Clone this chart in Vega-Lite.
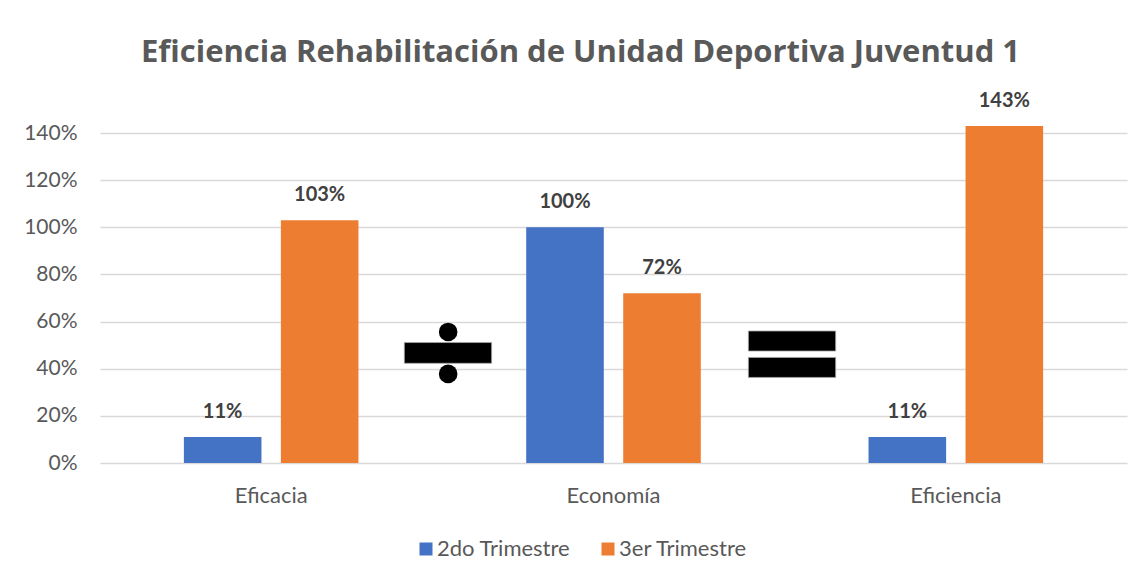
{
  "$schema": "https://vega.github.io/schema/vega-lite/v6.json",
  "autosize": {"type": "none"},
  "width": 1027,
  "height": 330,
  "padding": {"left": 100, "top": 133, "right": 14, "bottom": 116},
  "background": "white",
  "config": {
    "font": "Lato",
    "view": {"stroke": null}
  },
  "title": {
    "text": "Eficiencia Rehabilitación de Unidad Deportiva Juventud 1",
    "font": "Open Sans",
    "fontSize": 31,
    "fontWeight": "bold",
    "color": "#595959",
    "anchor": "middle",
    "frame": "group",
    "baseline": "alphabetic",
    "offset": -2,
    "dx": -33
  },
  "datasets": {
    "bars": [
      {"categoria": "Eficacia", "serie": "2do Trimestre", "valor": 0.11},
      {"categoria": "Eficacia", "serie": "3er Trimestre", "valor": 1.03},
      {"categoria": "Economía", "serie": "2do Trimestre", "valor": 1.0},
      {"categoria": "Economía", "serie": "3er Trimestre", "valor": 0.72},
      {"categoria": "Eficiencia", "serie": "2do Trimestre", "valor": 0.11},
      {"categoria": "Eficiencia", "serie": "3er Trimestre", "valor": 1.43}
    ],
    "rects": [
      {"simbolo": "división", "x1": 0.889, "x2": 1.144, "y1": 0.423, "y2": 0.511},
      {"simbolo": "igual", "x1": 1.894, "x2": 2.149, "y1": 0.475, "y2": 0.56},
      {"simbolo": "igual", "x1": 1.894, "x2": 2.149, "y1": 0.363, "y2": 0.448}
    ],
    "dots": [
      {"simbolo": "división", "x": 1.017, "y": 0.556},
      {"simbolo": "división", "x": 1.017, "y": 0.378}
    ]
  },
  "layer": [
    {
      "data": {"name": "bars"},
      "encoding": {
        "x": {
          "field": "categoria",
          "type": "nominal",
          "sort": ["Eficacia", "Economía", "Eficiencia"],
          "scale": {"paddingInner": 0.49, "paddingOuter": 0.245},
          "axis": {
            "title": null,
            "labelAngle": 0,
            "labelFont": "Lato",
            "labelFontSize": 22,
            "labelColor": "#595959",
            "labelBaseline": "alphabetic",
            "labelPadding": 39,
            "ticks": false,
            "domain": false,
            "grid": false
          }
        },
        "xOffset": {
          "field": "serie",
          "type": "nominal",
          "scale": {"paddingInner": 0.2, "paddingOuter": 0}
        },
        "y": {
          "field": "valor",
          "type": "quantitative",
          "scale": {"domain": [0, 1.4], "nice": false, "zero": true},
          "axis": {
            "title": null,
            "format": ".0%",
            "values": [0, 0.2, 0.4, 0.6, 0.8, 1.0, 1.2, 1.4],
            "labelFont": "Lato",
            "labelFontSize": 21,
            "labelColor": "#595959",
            "labelPadding": 23,
            "ticks": false,
            "domain": false,
            "grid": true,
            "gridColor": "#d9d9d9",
            "gridWidth": 1.3
          }
        }
      },
      "layer": [
        {
          "mark": {"type": "bar", "clip": false},
          "encoding": {
            "color": {
              "field": "serie",
              "type": "nominal",
              "scale": {"domain": ["2do Trimestre", "3er Trimestre"], "range": ["#4472C4", "#ED7D31"]},
              "legend": {
                "title": null,
                "orient": "none",
                "direction": "horizontal",
                "legendX": 315,
                "legendY": 405,
                "symbolType": "square",
                "symbolSize": 169,
                "symbolStrokeWidth": 0,
                "labelFont": "Lato",
                "labelFontSize": 22,
                "labelColor": "#595959",
                "labelOffset": 0,
                "columnPadding": 26
              }
            }
          }
        },
        {
          "mark": {
            "type": "text",
            "baseline": "alphabetic",
            "align": "center",
            "dy": -19,
            "font": "Lato",
            "fontSize": 20,
            "fontWeight": "bold",
            "color": "#404040"
          },
          "encoding": {
            "text": {"field": "valor", "type": "quantitative", "format": ".0%"}
          }
        }
      ]
    },
    {
      "layer": [
        {
          "data": {"name": "rects"},
          "mark": {"type": "rect", "color": "black", "stroke": "#a6a6a6", "strokeWidth": 0.8},
          "encoding": {
            "x": {"field": "x1", "type": "quantitative", "scale": {"domain": [0, 3], "nice": false, "zero": false}, "axis": null},
            "x2": {"field": "x2"},
            "y": {"field": "y1", "type": "quantitative"},
            "y2": {"field": "y2"}
          }
        },
        {
          "data": {"name": "dots"},
          "mark": {"type": "point", "shape": "circle", "filled": true, "color": "black", "size": 346, "opacity": 1},
          "encoding": {
            "x": {"field": "x", "type": "quantitative", "scale": {"domain": [0, 3], "nice": false, "zero": false}, "axis": null},
            "y": {"field": "y", "type": "quantitative"}
          }
        }
      ]
    }
  ],
  "resolve": {"scale": {"x": "independent"}}
}
